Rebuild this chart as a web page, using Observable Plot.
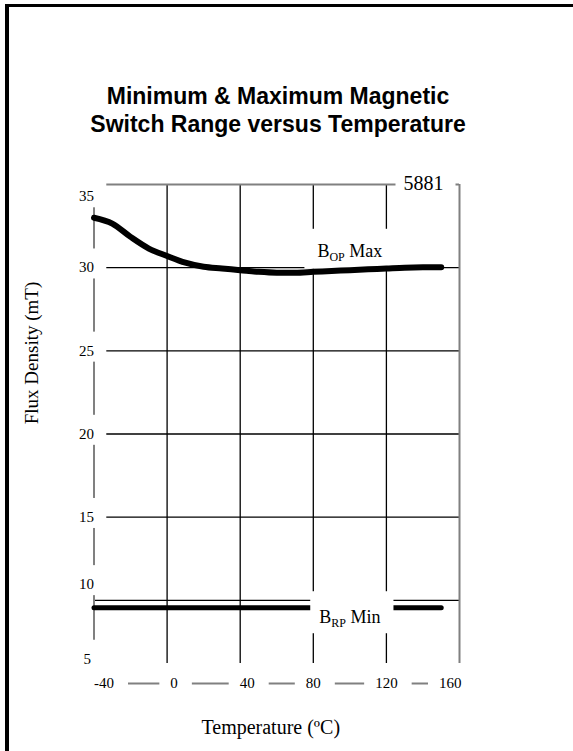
<!DOCTYPE html>
<html><head><meta charset="utf-8">
<script src="https://cdn.jsdelivr.net/npm/d3@7"></script>
<script src="https://cdn.jsdelivr.net/npm/@observablehq/plot@0.6"></script>
<style>
html,body{margin:0;padding:0;background:#fff;overflow:hidden;width:573px;height:751px;}
#frame{position:absolute;left:5px;top:4px;width:800px;height:900px;border-left:4px solid #000;border-top:3px solid #000;pointer-events:none;}
#title{height:150px;width:556px;box-sizing:border-box;padding-top:82px;text-align:center;font:bold 23px "Liberation Sans",Arial,sans-serif;line-height:28px;color:#000;}
#chart svg{display:block;}
</style></head><body>
<div id="frame"></div>
<div id="title">Minimum &amp; Maximum Magnetic<br>Switch Range versus Temperature</div>
<div id="chart"></div>
<script>
// ---- data ----
const temps  = [-40, -30, -20, -10, 0, 10, 20, 30, 40, 50, 60, 70, 80, 90, 100, 110, 120, 130, 140, 150];
const bopMax = [33.0, 32.65, 31.85, 31.15, 30.7, 30.3, 30.05, 29.95, 29.85, 29.75, 29.7, 29.7, 29.75, 29.8, 29.85, 29.9, 29.95, 30.0, 30.02, 30.02];
const brpTemps = [-40, 150];
const brpMin   = [9.55, 9.55];
const xTicks = [-40, 0, 40, 80, 120, 160];
const yTicksMid = [30, 25, 20, 15];
const yTickTop = [35];
const yTickLow = [10];
const yTickBottom = [5];
const xGrid = [0, 40, 80, 120];
const yGrid = [15, 20, 25, 30];
const yGridFull = [10];
const partNumber = "5881";
const bopLabel = "BOP Max";
const brpLabel = "BRP Min";

const bop = temps.map((t, i) => ({t, v: bopMax[i]}));
const brp = brpTemps.map((t, i) => ({t, v: brpMin[i]}));

const serif = '"Liberation Serif","Times New Roman",serif';
const gray = "#808080";

const tx = {y: 5, x: d => d, text: d => String(d), fontSize: 15, fill: "black"};
const ty = {x: -40, y: d => d, text: d => String(d), textAnchor: "end", fontSize: 15, fill: "black"};

const plot = Plot.plot({
  width: 573, height: 601,
  marginLeft: 93.5, marginRight: 114, marginTop: 34, marginBottom: 68,
  x: {domain: [-40, 160], axis: null},
  y: {domain: [5, 35], axis: null},
  style: {fontFamily: serif, background: "white", overflow: "visible"},
  marks: [
    Plot.ruleX(xGrid, {y1: 6.2, y2: 35, stroke: "#000", strokeWidth: 1.3}),
    Plot.ruleY(yGrid, {x1: -33, x2: 160, stroke: "#000", strokeWidth: 1.3}),
    Plot.ruleY(yGridFull, {x1: -40, x2: 160, stroke: "#000", strokeWidth: 1.3}),
    Plot.ruleY([35], {x1: -33, x2: 160, stroke: gray, strokeWidth: 2}),
    Plot.ruleX([160], {y1: 6.2, y2: 35, stroke: gray, strokeWidth: 2}),
    Plot.ruleX([-40], {y1: 7.6, y2: 35, stroke: gray, strokeWidth: 2}),
    Plot.ruleY([5], {x1: -40, x2: 160, stroke: gray, strokeWidth: 2}),
    // x tick labels
    Plot.text(xTicks.slice(0, 1), {...tx, textAnchor: "start"}),
    Plot.text(xTicks.slice(1, 3), {...tx, dx: 7}),
    Plot.text(xTicks.slice(3, 5), {...tx}),
    Plot.text(xTicks.slice(5), {...tx, textAnchor: "end", dx: 2}),
    // y tick labels
    Plot.text(yTicksMid, {...ty}),
    Plot.text(yTickTop, {...ty, dy: 12}),
    Plot.text(yTickLow, {...ty, dy: -16}),
    Plot.text(yTickBottom, {...ty, dx: -3, dy: -24}),
    // part number on the top frame line
    Plot.text([partNumber], {frameAnchor: "top-right", text: d => d, textAnchor: "middle", lineAnchor: "middle", dx: -36, dy: -1, fontSize: 20, fill: "black"}),
    // BOP label (knock-out behind the curve)
    Plot.text([bopLabel], {x: 100, y: 31.0, text: d => d, fontSize: 18, fill: "black"}),
    Plot.line(bop, {x: "t", y: "v", stroke: "#000", strokeWidth: 6, strokeLinecap: "round", strokeLinejoin: "round", curve: "monotone-x"}),
    Plot.line(brp, {x: "t", y: "v", stroke: "#000", strokeWidth: 5, strokeLinecap: "round"}),
    Plot.text([brpLabel], {x: 100, y: 8.97, text: d => d, fontSize: 18, fill: "black"}),
    // axis titles
    Plot.text(["Flux Density (mT)"], {frameAnchor: "left", text: d => d, rotate: -90, textAnchor: "middle", lineAnchor: "middle", dx: -62, dy: -81, fontSize: 19, fill: "black"}),
    Plot.text(["Temperature (ºC)"], {frameAnchor: "bottom", text: d => d, textAnchor: "middle", lineAnchor: "middle", dx: -6, dy: 44, fontSize: 20, fill: "black"})
  ]
});

document.getElementById("chart").appendChild(plot);

// subscripts for the curve labels
plot.querySelectorAll("text").forEach(el => {
  const s = el.textContent;
  if (s === bopLabel) { el.innerHTML = 'B<tspan font-size="12" dy="4">OP</tspan><tspan dy="-4"> Max</tspan>'; el.dataset.key = bopLabel; }
  if (s === brpLabel) { el.innerHTML = 'B<tspan font-size="12" dy="4">RP</tspan><tspan dy="-4"> Min</tspan>'; el.dataset.key = brpLabel; }
});

// white knock-out boxes behind labels that sit on lines: [left, right, top, bottom] padding
const knock = new Map();
xTicks.forEach(t => knock.set(String(t), [11, 14, 1, 1]));
[...yTicksMid, ...yTickTop, ...yTickLow].forEach(t => knock.set(String(t), [3, 3, 11, 3]));
knock.set(partNumber, [8, 12, 2, 2]);
knock.set(bopLabel, [13, 12, 12, 5]);
knock.set(brpLabel, [9, 13, 16, 3]);
const SVGNS = "http://www.w3.org/2000/svg";
plot.querySelectorAll("text").forEach(el => {
  const key = el.dataset.key || el.textContent;
  const pad = knock.get(key);
  if (!pad) return;
  const b = el.getBBox();
  const r = document.createElementNS(SVGNS, "rect");
  r.setAttribute("x", b.x - pad[0]);
  r.setAttribute("y", b.y - pad[2]);
  r.setAttribute("width", b.width + pad[0] + pad[1]);
  r.setAttribute("height", b.height + pad[2] + pad[3]);
  r.setAttribute("fill", "white");
  r.setAttribute("stroke", "none");
  const tr = el.getAttribute("transform");
  if (tr) r.setAttribute("transform", tr);
  el.parentNode.insertBefore(r, el);
});
</script>
</body></html>
